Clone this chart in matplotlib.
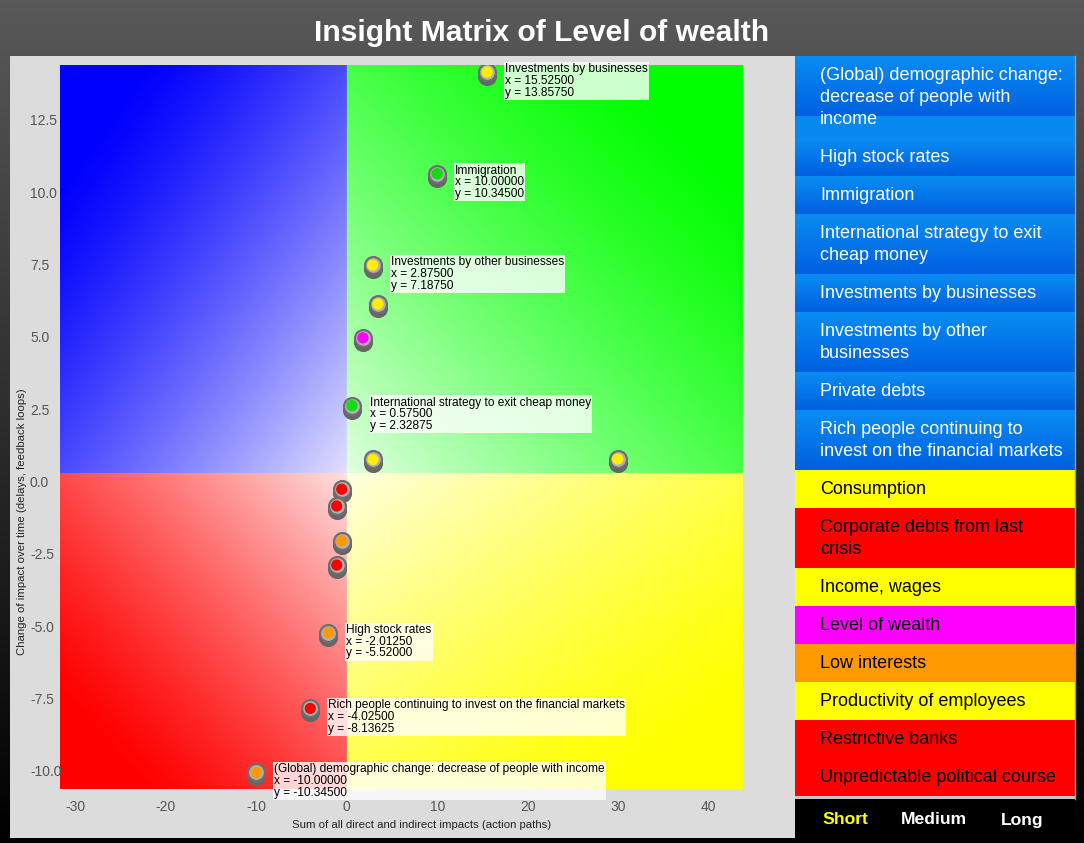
import numpy as np
import matplotlib
matplotlib.use('Agg')
import matplotlib.pyplot as plt
from matplotlib.patches import Rectangle
from matplotlib.transforms import ScaledTranslation, offset_copy

plt.rcParams['font.family'] = ['Liberation Sans', 'DejaVu Sans']

# ---------------- data ----------------
title = "Insight Matrix of Level of wealth"
x_label = "Sum of all direct and indirect impacts (action paths)"
y_label = "Change of impact over time (delays, feedback loops)"

point_x = [15.525, 10.0, 2.875, 3.45, 1.8, 0.575, 2.9, 29.95,
           -0.55, -1.1, -0.55, -1.1, -2.0125, -4.025, -10.0]
point_y = [13.8575, 10.345, 7.1875, 5.84, 4.67, 2.32875, 0.47, 0.48,
           -0.56, -1.14, -2.35, -3.18, -5.52, -8.13625, -10.345]
point_color = ['#ffee00', '#10dd10', '#ffee00', '#ffee00', '#ff00ff', '#10dd10',
               '#ffee00', '#ffee00', '#ff0000', '#ff0000', '#ff9900', '#ff0000',
               '#ff9900', '#ff0000', '#ff9900']
point_label = ["Investments by businesses", "Immigration", "Investments by other businesses",
               "", "", "International strategy to exit cheap money", "", "",
               "", "", "", "", "High stock rates",
               "Rich people continuing to invest on the financial markets",
               "(Global) demographic change: decrease of people with income"]

x_ticks = [-30, -20, -10, 0, 10, 20, 30, 40]
y_ticks = [-10.0, -7.5, -5.0, -2.5, 0.0, 2.5, 5.0, 7.5, 10.0, 12.5]

legend_labels = ["(Global) demographic change:\ndecrease of people with\nincome",
                 "High stock rates", "Immigration",
                 "International strategy to exit\ncheap money",
                 "Investments by businesses",
                 "Investments by other\nbusinesses",
                 "Private debts",
                 "Rich people continuing to\ninvest on the financial markets",
                 "Consumption", "Corporate debts from last\ncrisis", "Income, wages",
                 "Level of wealth", "Low interests", "Productivity of employees",
                 "Restrictive banks", "Unpredictable political course"]
legend_colors = ['button'] * 8 + ['#ffff00', '#ff0000', '#ffff00', '#ff00ff',
                                  '#ff9900', '#ffff00', '#ff0000', '#ff0000']
horizon_labels = ["Short", "Medium", "Long"]
horizon_colors = ['#ffff00', 'white', 'white']

# ---------------- figure ----------------
W, H, DPI = 1084, 843, 100
fig = plt.figure(figsize=(W / DPI, H / DPI), dpi=DPI)

bg = fig.add_axes([0, 0, 1, 1], zorder=0)
bg.set_xlim(0, W)
bg.set_ylim(H, 0)
bg.axis('off')

# page background gradient
g = np.linspace(0, 1, 300)[:, None]
shade = (1 - g) * 0.35
bg.imshow(np.dstack([shade, shade, shade]) * np.ones((1, 2, 1)), extent=[0, W, H, 0],
          aspect='auto', zorder=0)

# grey chart panel
bg.add_patch(Rectangle((10, 56), 785, 782, fc='#dcdcdc', ec='none', zorder=1))

# legend panel
top = 56
lx0, lx1 = 795, 1075
c_top = np.array([10, 140, 242]) / 255
c_bot = np.array([0, 96, 224]) / 255
for lab, col in zip(legend_labels, legend_colors):
    lines = lab.split('\n')
    h = 16 + 22 * len(lines)
    if col == 'button':
        gh = min(h, 60)
        gg = np.linspace(0, 1, 60)[:, None, None]
        grad = c_top * (1 - gg) + c_bot * gg
        grad = np.repeat(grad, 2, axis=1)
        bg.imshow(grad, extent=[lx0, lx1, top + gh, top], aspect='auto', zorder=2)
        if h > gh:
            bg.add_patch(Rectangle((lx0, top + gh), lx1 - lx0, h - gh,
                                   fc='#0788ee', ec='none', zorder=2))
        tc = 'white'
    else:
        bg.add_patch(Rectangle((lx0, top), lx1 - lx0, h, fc=col, ec='none', zorder=2))
        tc = 'black'
    for i, ln in enumerate(lines):
        bg.text(820, top + 20 + 22 * i, ln, color=tc, fontsize=12.95,
                ha='left', va='center', zorder=3)
    top += h
bg.set_xlim(0, W)
bg.set_ylim(H, 0)
bg.add_patch(Rectangle((lx0, top), lx1 - lx0, 3, fc='#c8c8c8', ec='none', zorder=2))
bg.plot([lx1, lx1], [56, top + 3], color='#9a9a9a', lw=1, zorder=3)
bg.add_patch(Rectangle((lx0, top + 3), lx1 - lx0, 838 - top - 3, fc='black', ec='none', zorder=2))
for lab, col, xc in zip(horizon_labels, horizon_colors, [845, 934, 1022]):
    bg.text(xc, 820, lab, color=col, fontsize=12.6, fontweight='bold',
            ha='center', va='center', zorder=3)

# title
fig.text(542 / W, 1 - 33 / H, title, color='white', fontsize=21.6, fontweight='bold',
         ha='center', va='center')

# ---------------- main axes ----------------
ax_l, ax_t, ax_r, ax_b = 60, 65, 743, 789
ax = fig.add_axes([ax_l / W, 1 - ax_b / H, (ax_r - ax_l) / W, (ax_b - ax_t) / H], zorder=1)
xmin, xmax = -31.68, 43.79
ymin, ymax = -10.92, 14.10
ax.set_xlim(xmin, xmax)
ax.set_ylim(ymin, ymax)
ax.patch.set_visible(False)
for s in ax.spines.values():
    s.set_visible(False)

# quadrant gradients
nx, ny = 700, 740
xs = np.linspace(xmin, xmax, nx)[None, :]
ys = np.linspace(ymax, ymin, ny)[:, None]
X = np.broadcast_to(xs, (ny, nx))
Y = np.broadcast_to(ys, (ny, nx))
left = X < 0
upper = Y >= 0
u = np.where(left, (X - xmin) / (0 - xmin), (xmax - X) / xmax)
v = np.where(upper, (ymax - Y) / ymax, (Y - ymin) / (0 - ymin))
t = (u + v) / 2
f = np.clip((t - 0.15) / 0.85, 0, 1) ** 1.25 * 0.88
img = np.zeros((ny, nx, 3))
quad_cols = {(True, True): (0, 0, 1), (False, True): (0, 1, 0),
             (True, False): (1, 0, 0), (False, False): (1, 1, 0)}
for (lq, uq), c in quad_cols.items():
    m = (left == lq) & (upper == uq)
    for k in range(3):
        img[..., k] = np.where(m, c[k] * (1 - f) + f, img[..., k])
ax.imshow(img, extent=[xmin, xmax, ymin, ymax], aspect='auto', zorder=0,
          interpolation='bilinear')

# ticks
ax.set_xticks(x_ticks)
ax.set_xticklabels([str(v) for v in x_ticks])
ax.tick_params(axis='x', length=0, pad=8, labelsize=10, labelcolor='#555555')
ax.set_yticks(y_ticks)
ax.set_yticklabels([])
ax.tick_params(axis='y', length=0)
ytr = offset_copy(ax.get_yaxis_transform(), fig=fig, x=0, y=-10, units='dots')
for v in y_ticks:
    ax.text(-30 / (ax_r - ax_l), v, f"{v:.1f}", transform=ytr, ha='left', va='center',
            fontsize=10, color='#555555', clip_on=False, zorder=1)

fig.text(421.7 / W, 1 - 825 / H, x_label, fontsize=8.2, color='#222222', ha='center', va='center')
fig.text(21.7 / W, 1 - 521.7 / H, y_label, fontsize=8.2, color='#222222', ha='center',
         va='center', rotation=90)

# markers (3D button look)
down = ax.transData + ScaledTranslation(0, -4 / DPI, fig.dpi_scale_trans)
ax.scatter(point_x, point_y, s=190, c='#666666', transform=down, zorder=3, linewidths=0)
ax.scatter(point_x, point_y, s=190, c='#6e6e6e', zorder=4, linewidths=0)
ax.scatter(point_x, point_y, s=112, c='#b0b0b0', zorder=5, linewidths=0)
ax.scatter(point_x, point_y, s=66, c=point_color, zorder=6, linewidths=0)

for x, y, lab in zip(point_x, point_y, point_label):
    if not lab:
        continue
    txt = f"{lab}\nx = {x:.5f}\ny = {y:.5f}"
    ax.annotate(txt, (x, y), xytext=(18, 9), textcoords='offset pixels',
                ha='left', va='top', fontsize=8.6, linespacing=0.98, color='black',
                annotation_clip=False, zorder=7,
                bbox=dict(boxstyle='square,pad=0.1', fc='white', ec='none', alpha=0.8))

fig.savefig('out.png', dpi=DPI)
